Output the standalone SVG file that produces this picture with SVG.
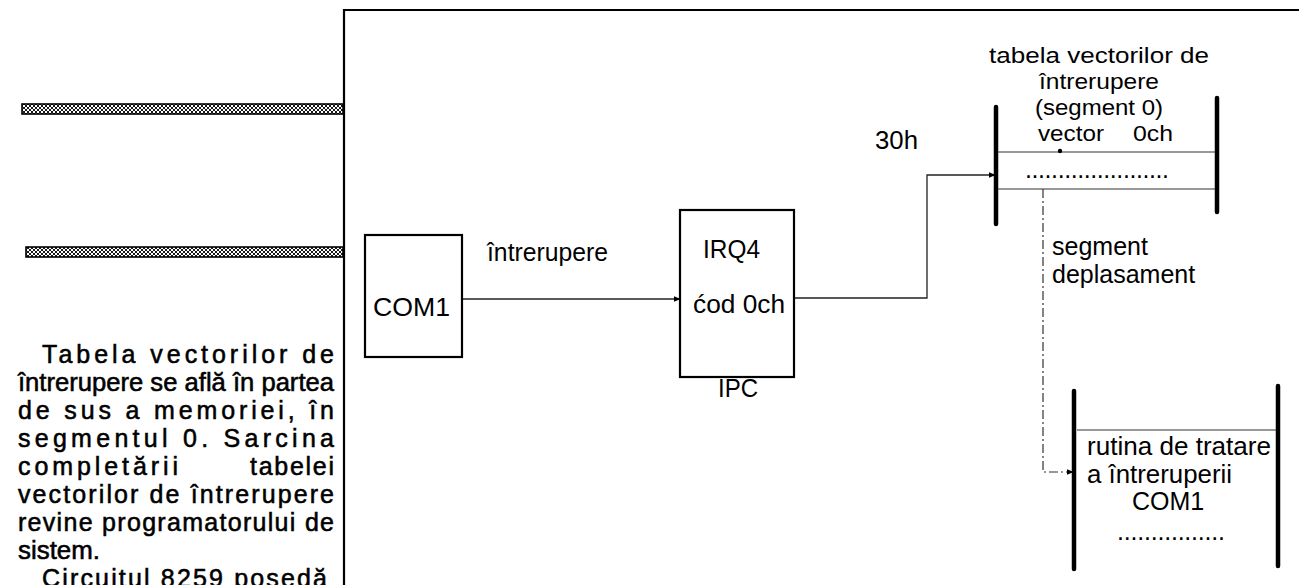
<svg xmlns="http://www.w3.org/2000/svg" width="1299" height="585" viewBox="0 0 1299 585">
<style>
  text { font-family: "Liberation Sans", Arial, Helvetica, sans-serif; fill: #000; }
  .lbl { font-size: 25px; }
  .tl { font-size: 22.5px; }
  .para { font-size: 25px; stroke: #000; stroke-width: 0.55px; }
  .box { fill: #fff; stroke: #000; stroke-width: 2.2; }
  .bar { stroke: #000; stroke-width: 4.5; stroke-linecap: round; }
  .thin { fill: none; stroke: #333; stroke-width: 1.2; }
  .cn { fill: none; stroke: #222; stroke-width: 1.3; }
  .dd { fill: none; stroke: #333; stroke-width: 1.2; stroke-dasharray: 9 3 2 3; }
  .frame { fill: none; stroke: #000; stroke-width: 2.2; }
  .hatch { fill: url(#hatch); stroke: #000; stroke-width: 1.6; }
</style>
<defs>
  <pattern id="hatch" width="4" height="4" patternUnits="userSpaceOnUse">
    <rect width="4" height="4" fill="#fff"/>
    <path d="M0,0 L4,4 M4,0 L0,4" stroke="#000" stroke-width="0.9"/>
  </pattern>
  <marker id="arr" viewBox="0 0 10 10" refX="9" refY="5" markerWidth="7" markerHeight="7" markerUnits="userSpaceOnUse" orient="auto">
    <path d="M0,1 L10,5 L0,9 Z" fill="#000"/>
  </marker>
</defs>

<!-- frame -->
<g id="frame">
  <path class="frame" d="M344,585 L344,10 L1299,10"/>
</g>

<!-- hatched buses -->
<g id="bus1"><rect class="hatch" x="22" y="104" width="321" height="10"/></g>
<g id="bus2"><rect class="hatch" x="26" y="247" width="317" height="10"/></g>

<!-- paragraph -->
<g id="paragraph">
  <text class="para" x="42" y="363" textLength="292" lengthAdjust="spacing">Tabela vectorilor de</text>
  <text class="para" x="18" y="391" textLength="316" lengthAdjust="spacingAndGlyphs">întrerupere se află în partea</text>
  <text class="para" x="18" y="419" textLength="316" lengthAdjust="spacing">de sus a memoriei, în</text>
  <text class="para" x="18" y="447" textLength="316" lengthAdjust="spacing">segmentul 0. Sarcina</text>
  <text class="para" x="18" y="475" textLength="160" lengthAdjust="spacing">completării</text>
  <text class="para" x="250" y="475" textLength="84" lengthAdjust="spacing">tabelei</text>
  <text class="para" x="18" y="503" textLength="316" lengthAdjust="spacing">vectorilor de întrerupere</text>
  <text class="para" x="18" y="531" textLength="316" lengthAdjust="spacing">revine programatorului de</text>
  <text class="para" x="18" y="559" textLength="82" lengthAdjust="spacingAndGlyphs">sistem.</text>
  <text class="para" x="42" y="587" textLength="285" lengthAdjust="spacing">Circuitul 8259 posedă</text>
</g>

<!-- connectors -->
<g id="connectors">
  <line class="cn" x1="462" y1="299" x2="680" y2="299" marker-end="url(#arr)"/>
  <polyline class="cn" points="794,298 927,298 927,175 995,175" marker-end="url(#arr)"/>
  <polyline class="dd" points="1043,189 1043,472 1073,472" marker-end="url(#arr)"/>
</g>

<!-- COM1 device -->
<g id="com1">
  <rect class="box" x="365" y="235" width="97" height="122"/>
  <text class="lbl" x="373" y="316" textLength="77" lengthAdjust="spacingAndGlyphs">COM1</text>
</g>

<text id="lbl-intrerupere" class="lbl" x="487" y="261" textLength="121" lengthAdjust="spacingAndGlyphs">întrerupere</text>

<!-- IPC controller -->
<g id="ipc">
  <rect class="box" x="680" y="210" width="114" height="167"/>
  <text class="lbl" x="703" y="258" textLength="57" lengthAdjust="spacingAndGlyphs">IRQ4</text>
  <text class="lbl" x="693" y="313" textLength="92" lengthAdjust="spacingAndGlyphs">ćod 0ch</text>
  <text class="lbl" x="718" y="397" textLength="40" lengthAdjust="spacingAndGlyphs">IPC</text>
</g>

<text id="lbl-30h" class="lbl" x="875" y="149" textLength="43" lengthAdjust="spacingAndGlyphs">30h</text>

<!-- interrupt vector table -->
<g id="vector-table">
  <text class="tl" x="1099" y="63" text-anchor="middle" textLength="220" lengthAdjust="spacingAndGlyphs">tabela vectorilor de</text>
  <text class="tl" x="1099" y="89" text-anchor="middle" textLength="120" lengthAdjust="spacingAndGlyphs">întrerupere</text>
  <text class="tl" x="1099" y="115" text-anchor="middle" textLength="128" lengthAdjust="spacingAndGlyphs">(segment 0)</text>
  <text class="tl" x="1038" y="141" textLength="66" lengthAdjust="spacingAndGlyphs">vector</text>
  <text class="tl" x="1173" y="141" text-anchor="end" textLength="40" lengthAdjust="spacingAndGlyphs">0ch</text>
  <line class="bar" x1="996" y1="107" x2="996" y2="224"/>
  <line class="bar" x1="1217" y1="98" x2="1217" y2="212"/>
  <line class="thin" x1="998" y1="152" x2="1215" y2="152"/>
  <line class="thin" x1="998" y1="189" x2="1215" y2="189"/>
  <circle cx="1060" cy="151" r="2.2" fill="#000"/>
  <text class="lbl" x="1025" y="178" textLength="144" lengthAdjust="spacing">......................</text>
</g>

<g id="lbl-segment">
  <text class="lbl" x="1052" y="255">segment</text>
  <text class="lbl" x="1052" y="283">deplasament</text>
</g>

<!-- interrupt routine -->
<g id="routine">
  <line class="bar" x1="1074" y1="391" x2="1074" y2="569"/>
  <line class="bar" x1="1278" y1="386" x2="1278" y2="566"/>
  <line class="thin" x1="1077" y1="430" x2="1276" y2="430"/>
  <text class="lbl" x="1087" y="455" textLength="184" lengthAdjust="spacingAndGlyphs">rutina de tratare</text>
  <text class="lbl" x="1087" y="483" textLength="145" lengthAdjust="spacingAndGlyphs">a întreruperii</text>
  <text class="lbl" x="1168" y="510" text-anchor="middle">COM1</text>
  <text class="lbl" x="1117" y="540" textLength="108" lengthAdjust="spacing">................</text>
</g>
</svg>
